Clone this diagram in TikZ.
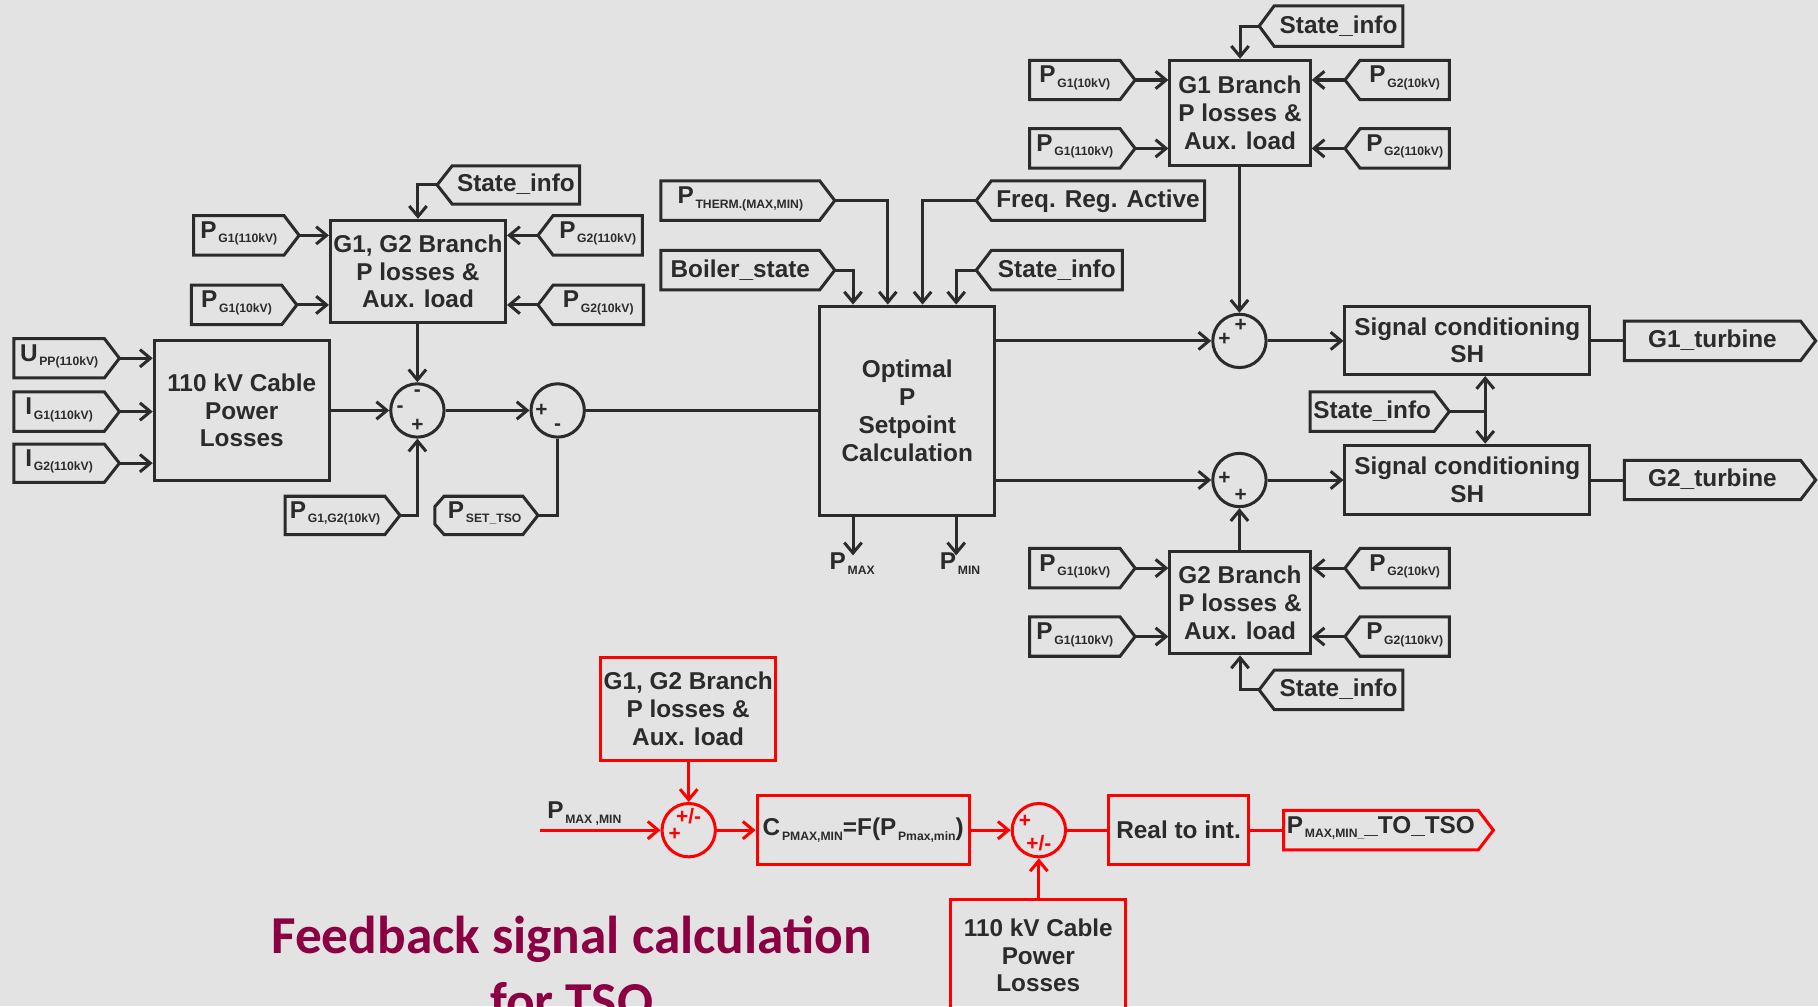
\documentclass[tikz,border=0pt]{standalone}
\usepackage{fontspec}
\setmainfont{Liberation Sans}
\newfontfamily\titlefont{Carlito}
\usetikzlibrary{arrows.meta}
\definecolor{bg}{HTML}{E3E3E3}
\definecolor{dk}{HTML}{2B2B2B}
\definecolor{rd}{HTML}{FF0000}
\definecolor{ttl}{HTML}{8B0043}
\newcommand\bfont{\fontsize{21}{24}\selectfont\bfseries}
\newcommand\subs[1]{\hspace{1.5pt}\raisebox{-4pt}{\fontsize{10.5}{12}\selectfont #1}}
\newcommand\Pn[2][P]{\raisebox{3.5pt}{#1\subs{#2}}}
\tikzset{
  box/.style={draw=dk, line width=2.6pt, inner sep=0pt, align=center, font=\bfont, text=dk},
  rbox/.style={box, draw=rd},
  tagline/.style={draw=dk, line width=2.6pt, line join=miter},
  rtagline/.style={tagline, draw=rd},
  tagtxt/.style={inner sep=0pt, font=\bfont, text=dk, text height=15pt, text depth=3pt},
  lbl/.style={inner sep=0pt, font=\bfont, text=dk, text height=15pt, text depth=3pt},
  sumc/.style={circle, draw=dk, line width=2.6pt, minimum size=46pt, inner sep=0pt},
  rsumc/.style={sumc, draw=rd},
  sgn/.style={inner sep=0pt, font=\fontsize{18}{18}\selectfont\bfseries, text=dk},
  rsgn/.style={sgn, text=rd},
  con/.style={draw=dk, line width=2.6pt},
  rcon/.style={draw=rd, line width=2.6pt},
  arr/.style={con, -{Straight Barb[length=9pt,width=15pt]}},
  rarr/.style={rcon, -{Straight Barb[length=9pt,width=15pt]}},
}
\newcommand\mkblock[7][]{%
  \pgfmathsetmacro\cx{(#3+#4)/2}%
  \pgfmathsetmacro\cy{(#5+#6)/2}%
  \pgfmathsetmacro\ww{#4-#3}%
  \pgfmathsetmacro\hh{#6-#5}%
  \node[box,#1,minimum width=\ww pt,minimum height=\hh pt] (#2) at (\cx,\cy) {#7};}
\newcommand\mktagR[7][tagline]{%
  \pgfmathsetmacro\ym{(#5+#6)/2}%
  \pgfmathsetmacro\xb{#4-13}%
  \pgfmathsetmacro\xc{(#3+#4-13)/2}%
  \draw[#1] (#3,#5) -- (\xb,#5) -- (#4,\ym) -- (\xb,#6) -- (#3,#6) -- cycle;
  \coordinate (#2-tip) at (#4,\ym);
  \node[tagtxt] (#2) at (\xc,\ym) {#7};}
\newcommand\mktagL[7][tagline]{%
  \pgfmathsetmacro\ym{(#5+#6)/2}%
  \pgfmathsetmacro\xb{#3+13}%
  \pgfmathsetmacro\xc{(#3+13+#4)/2}%
  \draw[#1] (#4,#5) -- (\xb,#5) -- (#3,\ym) -- (\xb,#6) -- (#4,#6) -- cycle;
  \coordinate (#2-tip) at (#3,\ym);
  \node[tagtxt] (#2) at (\xc,\ym) {#7};}
\begin{document}
\begin{tikzpicture}[x=1pt,y=-1pt]
\useasboundingbox (0,0) rectangle (1568,868);
\fill[bg] (0,0) rectangle (1568,868);
\clip (0,0) rectangle (1568,868);

% ---------- left part ----------
\mkblock{g12}{285}{436}{190}{278}{G1, G2 Branch\\P losses \&\\Aux. load}
\mkblock{cab}{133}{284}{294}{414}{110 kV Cable\\Power\\Losses}
\node[sumc] (s1) at (360,354) {};
\node[sumc] (s2) at (481,354) {};
\node[sgn] (s1a) at (360,339) {-};
\node[sgn] (s1b) at (345,353) {-};
\node[sgn] (s1c) at (360,367) {+};
\node[sgn] (s2a) at (467,354) {+};
\node[sgn] (s2b) at (481,368) {-};

\mktagR{tPa}{167}{258}{186}{220}{\Pn{G1(110kV)}}
\mktagR{tPb}{165}{256}{246}{280}{\Pn{G1(10kV)}}
\mktagL{tPc}{464}{554}{186}{220}{\Pn{G2(110kV)}}
\mktagL{tPd}{464}{555}{246}{280}{\Pn{G2(10kV)}}
\mktagL{tSa}{377}{500}{143}{176}{State\_info}
\mktagR{tU}{12}{103}{292}{326}{\Pn[U]{PP(110kV)}}
\mktagR{tIa}{12}{103}{338}{372}{\Pn[I]{G1(110kV)}}
\mktagR{tIb}{12}{103}{383}{416}{\Pn[I]{G2(110kV)}}
\mktagR{tPg}{246}{345}{428}{461}{\Pn{G1,G2(10kV)}}
\draw[tagline] (375,437) -- (383,428) -- (451,428) -- (464,444.5) -- (451,461) -- (383,461) -- (375,452) -- cycle;
\coordinate (tPs-tip) at (464,444.5);
\node[tagtxt] (tPs) at (418,444.5) {\Pn{SET\_TSO}};

\draw[arr] (tPa-tip) -- (tPa-tip -| g12.west);
\draw[arr] (tPb-tip) -- (tPb-tip -| g12.west);
\draw[arr] (tPc-tip) -- (tPc-tip -| g12.east);
\draw[arr] (tPd-tip) -- (tPd-tip -| g12.east);
\draw[arr] (tSa-tip) -| (g12.north);
\draw[arr] (tU-tip) -- (tU-tip -| cab.west);
\draw[arr] (tIa-tip) -- (tIa-tip -| cab.west);
\draw[arr] (tIb-tip) -- (tIb-tip -| cab.west);
\draw[arr] (g12.south -| s1.north) -- (s1.north);
\draw[arr] (cab.east |- s1.west) -- (s1.west);
\draw[arr] (tPg-tip) -| (s1.south);
\draw[arr] (s1.east) -- (s2.west);
\draw[con] (tPs-tip) -| (s2.south);

% ---------- optimal block ----------
\mkblock{opt}{707}{858}{264}{445}{Optimal\\P\\Setpoint\\Calculation}
\mktagR{tTh}{570}{720}{156}{190}{\Pn{THERM.(MAX,MIN)}}
\mktagR{tBo}{570}{720}{216}{250}{Boiler\_state}
\mktagL{tFr}{842}{1039}{156}{190}{Freq. Reg. Active}
\mktagL{tSo}{842}{968}{216}{250}{State\_info}
\draw[con] (s2.east) -- (opt.west |- s2.east);
\draw[arr] (tBo-tip) -| ([xshift=30pt]opt.north west);
\draw[arr] (tTh-tip) -| ([xshift=60pt]opt.north west);
\draw[arr] (tFr-tip) -| ([xshift=90pt]opt.north west);
\draw[arr] (tSo-tip) -| ([xshift=119pt]opt.north west);
\node[lbl, anchor=north] (pmax) at (735,476) {P\subs{MAX}};
\node[lbl, anchor=north] (pmin) at (828,476) {P\subs{MIN}};
\draw[arr] ([xshift=30pt]opt.south west) -- ([xshift=30pt,yshift=-3pt]opt.south west |- pmax.north);
\draw[arr] ([xshift=119pt]opt.south west) -- ([xshift=119pt,yshift=-3pt]opt.south west |- pmin.north);

% ---------- right part ----------
\mkblock{g1b}{1009}{1130}{52}{143}{G1 Branch\\P losses \&\\Aux. load}
\mkblock{g2b}{1009}{1130}{476}{564}{G2 Branch\\P losses \&\\Aux. load}
\mkblock{sc1}{1160}{1371}{264}{323}{Signal conditioning\\SH}
\mkblock{sc2}{1160}{1371}{384}{444}{Signal conditioning\\SH}
\node[sumc] (s3) at (1069,294) {};
\node[sumc] (s4) at (1069,414) {};
\node[sgn] (s3a) at (1070,281) {+};
\node[sgn] (s3b) at (1056,293) {+};
\node[sgn] (s4a) at (1056,413) {+};
\node[sgn] (s4b) at (1070,427) {+};

\mktagR{tGa}{888}{979}{52}{86}{\Pn{G1(10kV)}}
\mktagR{tGb}{888}{979}{111}{145}{\Pn{G1(110kV)}}
\mktagL{tGc}{1160}{1250}{52}{86}{\Pn{G2(10kV)}}
\mktagL{tGd}{1160}{1250}{111}{145}{\Pn{G2(110kV)}}
\mktagL{tSt}{1086}{1210}{5}{40}{State\_info}
\mktagR{tHa}{888}{979}{473}{507}{\Pn{G1(10kV)}}
\mktagR{tHb}{888}{979}{532}{566}{\Pn{G1(110kV)}}
\mktagL{tHc}{1160}{1250}{473}{507}{\Pn{G2(10kV)}}
\mktagL{tHd}{1160}{1250}{532}{566}{\Pn{G2(110kV)}}
\mktagL{tSb}{1086}{1210}{578}{612}{State\_info}
\mktagR{tSm}{1130}{1250}{338}{372}{State\_info}
\mktagR{tT1}{1401}{1566}{277}{311}{G1\_turbine}
\mktagR{tT2}{1401}{1566}{397}{431}{G2\_turbine}

\draw[arr] (tGa-tip) -- (tGa-tip -| g1b.west);
\draw[arr] (tGb-tip) -- (tGb-tip -| g1b.west);
\draw[arr] (tGc-tip) -- (tGc-tip -| g1b.east);
\draw[arr] (tGd-tip) -- (tGd-tip -| g1b.east);
\draw[arr] (tSt-tip) -| (g1b.north);
\draw[arr] (tHa-tip) -- (tHa-tip -| g2b.west);
\draw[arr] (tHb-tip) -- (tHb-tip -| g2b.west);
\draw[arr] (tHc-tip) -- (tHc-tip -| g2b.east);
\draw[arr] (tHd-tip) -- (tHd-tip -| g2b.east);
\draw[arr] (tSb-tip) -| (g2b.south);
\draw[arr] (opt.east |- s3.west) -- (s3.west);
\draw[arr] (opt.east |- s4.west) -- (s4.west);
\draw[arr] (g1b.south -| s3.north) -- (s3.north);
\draw[arr] (g2b.north -| s4.south) -- (s4.south);
\draw[arr] (s3.east) -- (s3.east -| sc1.west);
\draw[arr] (s4.east) -- (s4.east -| sc2.west);
\draw[con] (sc1.east |- tT1-tip) -- (tT1-tip -| 1401,0);
\draw[con] (sc2.east |- tT2-tip) -- (tT2-tip -| 1401,0);
\coordinate (jn) at (1281,355);
\draw[con] (tSm-tip) -- (jn);
\draw[arr] (jn) -- (jn |- sc1.south);
\draw[arr] (jn) -- (jn |- sc2.north);

% ---------- red part ----------
\mkblock[rbox]{rg}{518}{669}{567}{656}{G1, G2 Branch\\P losses \&\\Aux. load}
\mkblock[rbox]{rc}{653}{836}{686}{746}{C\subs{PMAX,MIN}=F(P\subs{Pmax,min})}
\mkblock[rbox]{rr}{956}{1077}{686}{746}{Real to int.}
\mkblock[rbox]{rk}{820}{971}{776}{872}{110 kV Cable\\Power\\Losses}
\node[rsumc] (s5) at (594,716) {};
\node[rsumc] (s6) at (896,716) {};
\node[rsgn] (s5a) at (594,704) {+/-};
\node[rsgn] (s5b) at (582,720) {+};
\node[rsgn] (s6a) at (884,708) {+};
\node[rsgn] (s6b) at (896,727) {+/-};
\mktagR[rtagline]{tR}{1107}{1288}{699}{733}{\Pn{MAX,MIN\_}\raisebox{3.5pt}{\_TO\_TSO}}
\node[lbl] (pmm) at (504,700) {P\subs{MAX ,MIN}};
\coordinate (pin) at (466,716);
\draw[rarr] (pin) -- (s5.west);
\draw[rarr] (rg.south -| s5.north) -- (s5.north);
\draw[rarr] (s5.east) -- (s5.east -| rc.west);
\draw[rarr] (rc.east |- s6.west) -- (s6.west);
\draw[rcon] (s6.east) -- (s6.east -| rr.west);
\draw[rcon] (rr.east |- tR-tip) -- (tR-tip -| 1107,0);
\draw[rarr] (rk.north -| s6.south) -- (s6.south);

% ---------- title ----------
\node[anchor=base, inner sep=0pt, text=ttl, font=\titlefont\bfseries\fontsize{46}{56}\selectfont] (title) at (493,822) {Feedback signal calculation};
\node[anchor=base, inner sep=0pt, text=ttl, font=\titlefont\bfseries\fontsize{46}{56}\selectfont] (title2) at (493,879) {for TSO};
\end{tikzpicture}
\end{document}
